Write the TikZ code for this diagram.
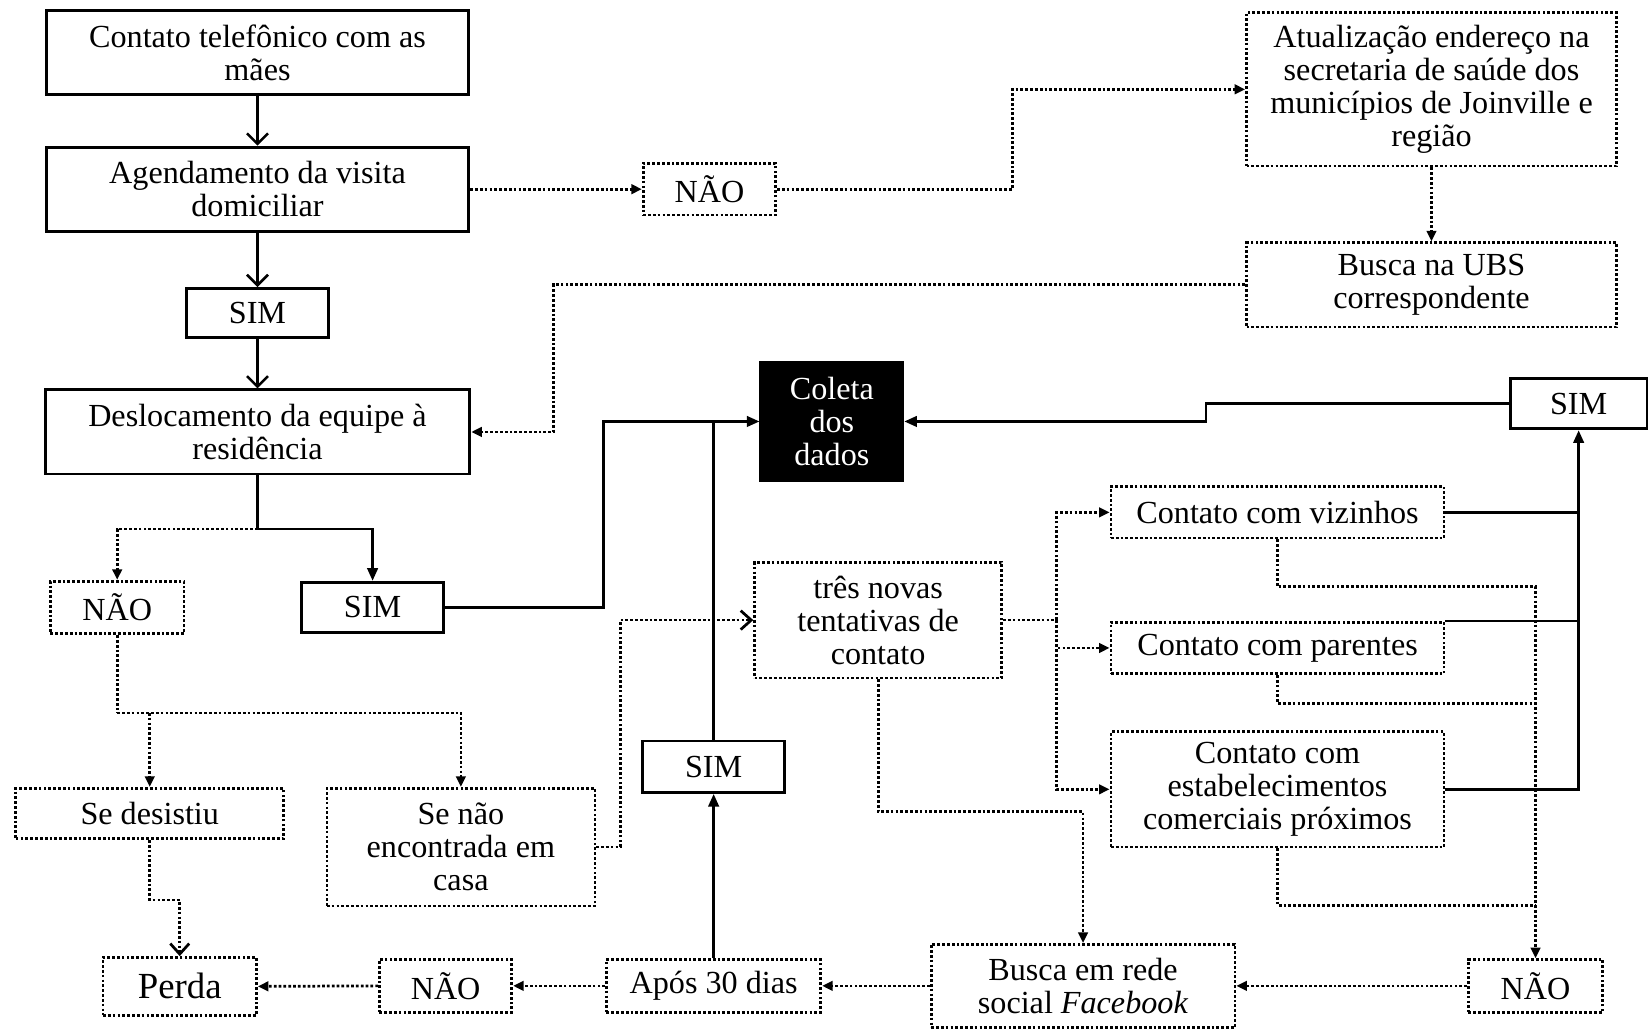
\documentclass[tikz,border=0pt]{standalone}
\usepackage{fontspec}
\setmainfont{Liberation Serif}
\usetikzlibrary{positioning,arrows.meta}

\begin{document}
\begin{tikzpicture}[
    x=0.5pt, y=-0.5pt,
    font=\fontsize{15.3}{15.7}\selectfont,
    sz/.style 2 args={minimum width=#1, minimum height=#2},
    box/.style={
        draw, line width=1.4pt,
        align=center, inner sep=2pt
    },
    dotbox/.style={
        draw, line width=1.3pt,
        dash pattern=on 1.3pt off 1pt,
        align=center, inner sep=2pt
    },
    darkbox/.style={
        draw, fill=black, text=white,
        align=center, inner sep=2pt
    },
    plain/.style={line width=1.2pt},
    link/.style={plain, -{Triangle[length=6pt,width=5pt]}},
    openlink/.style={plain, -{Straight Barb[length=5pt,width=10pt]}},
    dotline/.style={line width=1.3pt, dash pattern=on 1.3pt off 1pt},
    dotlink/.style={dotline, -{Triangle[length=5pt,width=4.5pt]}},
    dotopen/.style={dotline, -{Straight Barb[length=5pt,width=9pt]}}
]
\path[use as bounding box, fill=white] (0,0) rectangle (1568,979);

% Main column
\node[box, sz={201pt}{40pt}] (maes)   at (245,50)  {Contato telefônico com as\\mães};
\node[box, sz={201pt}{40pt}] (agenda) at (245,180) {Agendamento da visita\\domiciliar};
\node[box, sz={67.5pt}{23.5pt}] (sim1) at (245,298) {SIM};
\node[box, sz={202pt}{40pt}] (desloc) at (245,411) {Deslocamento da equipe à\\residência};

% Address update branch
\node[dotbox, sz={63pt}{24.5pt}] (nao1)  at (675,180) {NÃO};
\node[dotbox, sz={176pt}{73pt}]  (atual) at (1362,85)
  {Atualização endereço na\\secretaria de saúde dos\\municípios de Joinville e\\região};
\node[dotbox, sz={176pt}{40pt}]  (ubs)   at (1362,271) {Busca na UBS\\correspondente};

% Data collection
\node[darkbox, sz={68.5pt}{57pt}] (coleta) at (791.5,401) {Coleta\\dos\\dados};
\node[box, sz={65pt}{24pt}]       (simR)   at (1502,384)  {SIM};

% Visit outcome
\node[dotbox, sz={63.5pt}{25pt}]  (nao2)   at (111.5,578) {NÃO};
\node[box, sz={67.5pt}{24pt}]     (sim2)   at (354.5,578) {SIM};
\node[dotbox, sz={127.5pt}{24pt}] (desist) at (142.5,774) {Se desistiu};
\node[dotbox, sz={127.5pt}{56pt}] (naoenc) at (438.5,806) {Se não\\encontrada em\\casa};

% New attempts
\node[dotbox, sz={117.5pt}{55pt}]  (tres)  at (835.5,590)  {três novas\\tentativas de\\contato};
\node[dotbox, sz={158.5pt}{24.5pt}] (viz)  at (1215.5,487.5) {Contato com vizinhos};
\node[dotbox, sz={158.5pt}{24.5pt}] (par)  at (1215.5,616.5) {Contato com parentes};
\node[dotbox, sz={158.5pt}{55pt}]  (estab) at (1215.5,751)  {Contato com\\estabelecimentos\\comerciais próximos};
\node[box, sz={67.5pt}{24.5pt}]    (sim3)  at (679,729.5)   {SIM};

% Bottom row
\node[dotbox, sz={73pt}{27.5pt}, font=\fontsize{17.5}{18}\selectfont] (perda) at (171,938.5) {Perda};
\node[dotbox, sz={63pt}{25pt}]     (nao3)  at (424,938)    {NÃO};
\node[dotbox, sz={102pt}{25pt}]    (apos)  at (679,938)    {Após 30 dias};
\node[dotbox, sz={144.5pt}{39.5pt}] (face) at (1030.5,938) {Busca em rede\\social \textit{Facebook}};
\node[dotbox, sz={64pt}{25pt}]     (nao4)  at (1461,938)   {NÃO};

% Main arrows
\draw[openlink] (maes.south)   -- (agenda.north);
\draw[openlink] (agenda.south) -- (sim1.north);
\draw[openlink] (sim1.south)   -- (desloc.north);

% Address branch arrows
\draw[dotlink] (agenda.east) -- (nao1.west);
\draw[dotlink] (nao1.east) -- ++(224,0) |- (atual.west);
\draw[dotlink] (atual.south) -- (ubs.north);
\draw[dotlink] (ubs.west) -- ++(-658,0) |- (desloc.east);

% Visit outcome arrows
\draw[link] (desloc.south) -- ++(0,51) -| (sim2.north);
\draw[dotlink] (desloc.south) ++(0,51) -| (nao2.north);
\draw[link] (sim2.east) -- ++(151,0) |- (coleta.west);
\draw[plain] (sim3.north) -- (sim3.north |- coleta.west);
\draw[link] (apos.north) -- (sim3.south);
\draw[link] (simR.west) -- ++(-288,0) |- (coleta.east);

% Contacts to SIM
\draw[link]  (estab.east) -| (simR.south);
\draw[plain] (viz.east) -- (viz.east -| simR.south);
\draw[plain] (par.north east) -- (par.north east -| simR.south);

% New attempts
\draw[dotline] (tres.east) -- ++(51,0) coordinate (tb);
\draw[dotlink] (tb) |- (viz.west);
\draw[dotlink] (tb) |- (par.west);
\draw[dotlink] (tb) |- (estab.west);
\draw[dotlink] (tres.south) -- ++(0,126) -| (face.north);

% Contacts to NAO
\draw[dotlink] (viz.south) -- ++(0,45) -| (nao4.north);
\path (par.south) ++(0,27) coordinate (pb);
\draw[dotline] (par.south) -- (pb) -- (pb -| nao4.north);
\path (estab.south) ++(0,54) coordinate (eb);
\draw[dotline] (estab.south) -- (eb) -- (eb -| nao4.north);

% Bottom row arrows
\draw[dotlink] (nao4.west) -- (face.east);
\draw[dotlink] (face.west) -- (apos.east);
\draw[dotlink] (apos.west) -- (nao3.east);
\draw[dotlink] (nao3.west) -- (perda.east);

% Left branch
\draw[dotline] (nao2.south) -- ++(0,74) coordinate (nb);
\draw[dotlink] (nb) -| (naoenc.north);
\draw[dotlink] (nb -| desist.north) -- (desist.north);
\draw[dotopen] (desist.south) -- ++(0,57) -| (perda.north);
\draw[dotopen] (naoenc.east) -- ++(23,0) |- (tres.west);

\end{tikzpicture}
\end{document}
